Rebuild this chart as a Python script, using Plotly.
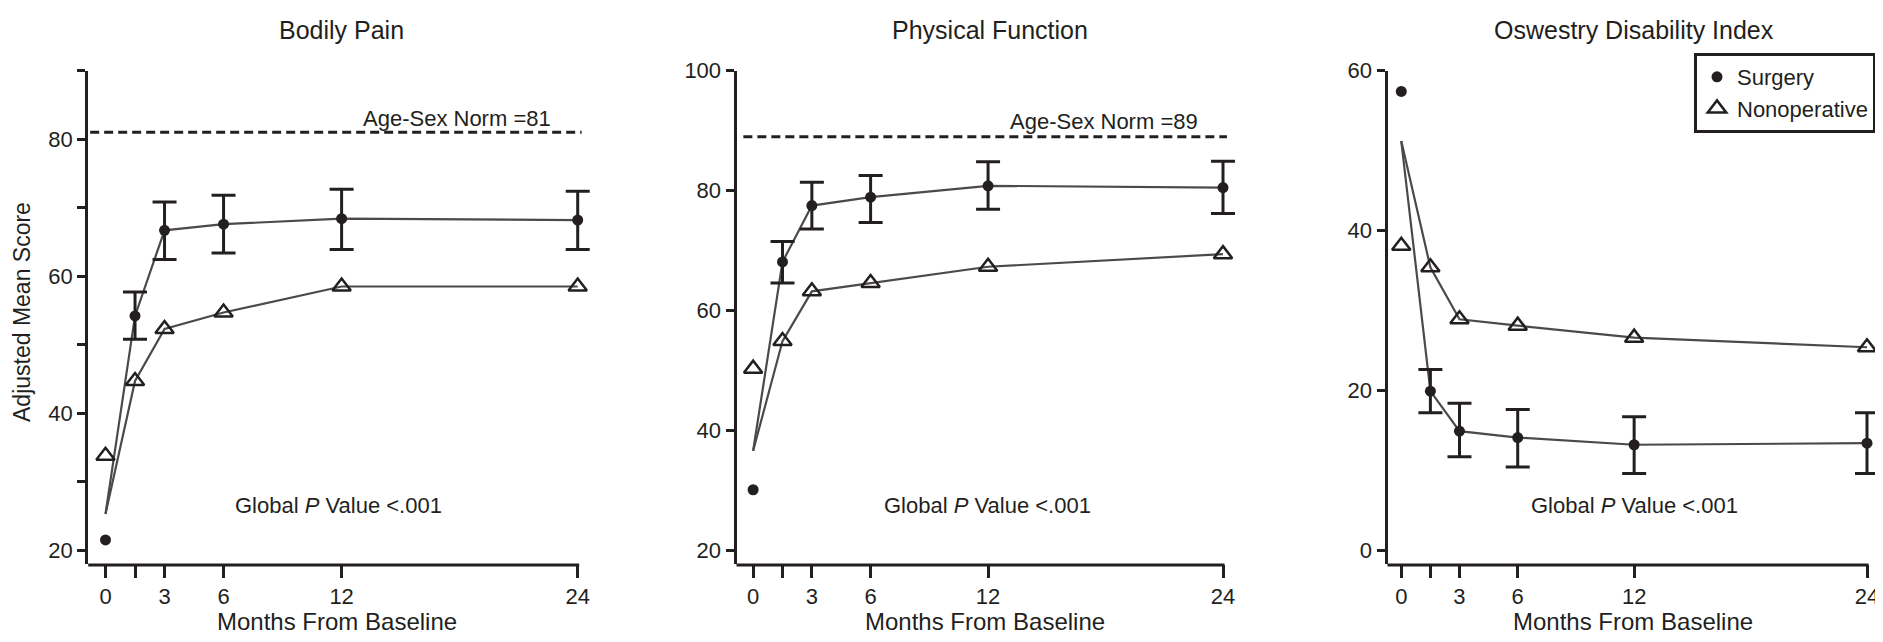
import plotly.graph_objects as go

# ---------------- data ----------------
MONTHS_FOLLOWUP = [1.5, 3, 6, 12, 24]
MONTH_BASELINE = [0]
X_TICK_VALS = [0, 1.5, 3, 6, 12, 24]
X_TICK_TEXT = ["0", "", "3", "6", "12", "24"]
X_AXIS_END = 24

PANEL_TITLES = ["Bodily Pain", "Physical Function", "Oswestry Disability Index"]
NORM_TEXT = ["Age-Sex Norm =81", "Age-Sex Norm =89"]
NORM_VALUES = [81, 89]
P_TEXT = "Global <i>P</i> Value <.001"
X_TITLE = "Months From Baseline"
Y_TITLE = "Adjusted Mean Score"
LEGEND_NAMES = ["Surgery", "Nonoperative"]

# Bodily Pain
BP_LINE_START = 25.3
BP_SURG_BASELINE = [21.5]
BP_NONOP_BASELINE = [33.8]
BP_SURG = [54.2, 66.7, 67.6, 68.4, 68.2]
BP_SURG_ERR_UP = [3.5, 4.15, 4.2, 4.3, 4.2]
BP_SURG_ERR_DN = [3.4, 4.25, 4.2, 4.5, 4.3]
BP_NONOP = [44.7, 52.3, 54.7, 58.5, 58.5]
BP_Y_TICKS = [20, 30, 40, 50, 60, 70, 80, 90]
BP_Y_TEXT = ["20", "", "40", "", "60", "", "80", ""]

# Physical Function
PF_LINE_START = 36.6
PF_SURG_BASELINE = [30.1]
PF_NONOP_BASELINE = [50.3]
PF_SURG = [68.1, 77.5, 78.9, 80.8, 80.5]
PF_SURG_ERR_UP = [3.4, 3.9, 3.6, 4.0, 4.4]
PF_SURG_ERR_DN = [3.5, 3.9, 4.2, 3.9, 4.3]
PF_NONOP = [54.9, 63.2, 64.6, 67.3, 69.4]
PF_Y_TICKS = [20, 40, 60, 80, 100]
PF_Y_TEXT = ["20", "40", "60", "80", "100"]

# Oswestry Disability Index
ODI_LINE_START = 51.2
ODI_SURG_BASELINE = [57.4]
ODI_NONOP_BASELINE = [38.1]
ODI_SURG = [19.9, 14.9, 14.1, 13.2, 13.4]
ODI_SURG_ERR_UP = [2.7, 3.5, 3.5, 3.5, 3.8]
ODI_SURG_ERR_DN = [2.7, 3.2, 3.7, 3.6, 3.8]
ODI_NONOP = [35.4, 28.9, 28.1, 26.6, 25.4]
ODI_Y_TICKS = [0, 20, 40, 60]
ODI_Y_TEXT = ["0", "20", "40", "60"]

# ---------------- layout helpers ----------------
OFF = 8  # default page body margin
FW, FH = 1875, 634
C = "#231f20"
LINE_C = "#4a4a4a"
FONT = "Liberation Sans, Arial, sans-serif"


def px_x(p):
    return (p - OFF) / FW


def px_y(p):
    return 1 - (p - OFF) / FH


PLOT_TOP, PLOT_BOTTOM = 70.7, 563.5
DOM_H = PLOT_BOTTOM - PLOT_TOP
# (left px, px at 24 months, range start, right extension px)
panels = [
    dict(sfx="", left=88.2, at24=577.7, x0=-0.88, ext=15.7, yr=[18.06, 90],
         start=BP_LINE_START, sb=BP_SURG_BASELINE, nb=BP_NONOP_BASELINE,
         s=BP_SURG, su=BP_SURG_ERR_UP, sd=BP_SURG_ERR_DN, n=BP_NONOP,
         yt=BP_Y_TICKS, ytt=BP_Y_TEXT),
    dict(sfx="2", left=736.5, at24=1223, x0=-0.85, ext=15.7, yr=[17.8, 100],
         start=PF_LINE_START, sb=PF_SURG_BASELINE, nb=PF_NONOP_BASELINE,
         s=PF_SURG, su=PF_SURG_ERR_UP, sd=PF_SURG_ERR_DN, n=PF_NONOP,
         yt=PF_Y_TICKS, ytt=PF_Y_TEXT),
    dict(sfx="3", left=1387.5, at24=1867, x0=-0.71, ext=15.0, yr=[-1.66, 60],
         start=ODI_LINE_START, sb=ODI_SURG_BASELINE, nb=ODI_NONOP_BASELINE,
         s=ODI_SURG, su=ODI_SURG_ERR_UP, sd=ODI_SURG_ERR_DN, n=ODI_NONOP,
         yt=ODI_Y_TICKS, ytt=ODI_Y_TEXT),
]

fig = go.Figure()
layout = dict(
    width=FW, height=FH, autosize=False,
    margin=dict(l=0, r=0, t=0, b=0, autoexpand=False),
    paper_bgcolor="white", plot_bgcolor="white",
    font=dict(family=FONT, color=C, size=22),
    showlegend=True,
    legend=dict(x=px_x(1876), xanchor="right", y=px_y(53), yanchor="top",
                bordercolor=C, borderwidth=3, bgcolor="white",
                font=dict(size=22, color=C), traceorder="normal",
                tracegroupgap=6),
    shapes=[], annotations=[],
)

for i, p in enumerate(panels):
    xa = "x" + p["sfx"]
    ya = "y" + p["sfx"]
    ppm = (p["at24"] - p["left"]) / (X_AXIS_END - p["x0"])
    right_px = min(p["at24"] + p["ext"], OFF + FW)
    x_end = X_AXIS_END + (right_px - p["at24"]) / ppm
    line_x = MONTH_BASELINE + MONTHS_FOLLOWUP
    # connecting lines
    fig.add_trace(go.Scatter(x=line_x, y=[p["start"]] + p["n"], mode="lines",
                             line=dict(color=LINE_C, width=2.2), xaxis=xa, yaxis=ya,
                             showlegend=False, hoverinfo="skip", cliponaxis=False))
    fig.add_trace(go.Scatter(x=line_x, y=[p["start"]] + p["s"], mode="lines",
                             line=dict(color=LINE_C, width=2.2), xaxis=xa, yaxis=ya,
                             showlegend=False, hoverinfo="skip", cliponaxis=False))
    # baseline markers (legend from first panel)
    fig.add_trace(go.Scatter(x=MONTH_BASELINE, y=p["sb"], mode="markers", name=LEGEND_NAMES[0],
                             marker=dict(symbol="circle", size=11, color=C),
                             xaxis=xa, yaxis=ya, showlegend=(i == 0), legendgroup="s",
                             cliponaxis=False))
    fig.add_trace(go.Scatter(x=MONTH_BASELINE, y=p["nb"], mode="markers", name=LEGEND_NAMES[1],
                             marker=dict(symbol="triangle-up-open", size=16, color=C,
                                         line=dict(width=2.5, color=C)),
                             xaxis=xa, yaxis=ya, showlegend=(i == 0), legendgroup="n",
                             cliponaxis=False))
    # follow-up markers
    fig.add_trace(go.Scatter(x=MONTHS_FOLLOWUP, y=p["n"], mode="markers",
                             marker=dict(symbol="triangle-up-open", size=16, color=C,
                                         line=dict(width=2.5, color=C)),
                             xaxis=xa, yaxis=ya, showlegend=False, cliponaxis=False))
    fig.add_trace(go.Scatter(x=MONTHS_FOLLOWUP, y=p["s"], mode="markers",
                             marker=dict(symbol="circle", size=11, color=C),
                             error_y=dict(type="data", symmetric=False, array=p["su"],
                                          arrayminus=p["sd"], color=C, thickness=3, width=12),
                             xaxis=xa, yaxis=ya, showlegend=False, cliponaxis=False))

    layout["xaxis" + p["sfx"]] = dict(
        domain=[px_x(p["left"]), min(1.0, px_x(right_px))], range=[p["x0"], x_end], anchor=ya,
        tickvals=X_TICK_VALS, ticktext=X_TICK_TEXT, ticks="outside", ticklen=13,
        tickwidth=3, tickcolor=C, showline=False,
        showgrid=False, zeroline=False, automargin=False, ticklabeloverflow="allow",
        tickfont=dict(size=22, color=C, family=FONT))
    layout["yaxis" + p["sfx"]] = dict(
        domain=[px_y(PLOT_BOTTOM), px_y(PLOT_TOP)], range=p["yr"], anchor=xa,
        tickvals=p["yt"], ticktext=p["ytt"], ticks="outside", ticklen=8,
        tickwidth=3, tickcolor=C, showline=True, linewidth=3, linecolor=C,
        showgrid=False, zeroline=False, automargin=False, ticklabeloverflow="allow",
        tickfont=dict(size=22, color=C, family=FONT))
    # x axis line ending at 24 months
    layout["shapes"].append(dict(type="line", xref=xa, yref=ya + " domain",
                                 x0=p["x0"] - 3.0 / ppm, x1=X_AXIS_END + 1.5 / ppm,
                                 y0=-1.5 / DOM_H, y1=-1.5 / DOM_H,
                                 line=dict(color=C, width=3)))

# norm lines
for i, norm in enumerate(NORM_VALUES):
    p = panels[i]
    layout["shapes"].append(dict(type="line", xref="x" + p["sfx"], yref="y" + p["sfx"],
                                 x0=p["x0"] + (0.1 if i == 0 else 0.35), x1=24.2,
                                 y0=norm, y1=norm,
                                 line=dict(color=C, width=3, dash="9px,5px")))

# text
title_centers = [341, 990, 1634]
for i, t in enumerate(PANEL_TITLES):
    layout["annotations"].append(dict(text=t, x=px_x(title_centers[i]), y=px_y(30),
                                      xref="paper", yref="paper", showarrow=False,
                                      xanchor="center", yanchor="middle",
                                      font=dict(size=25, color=C, family=FONT)))
layout["annotations"].append(dict(text=NORM_TEXT[0], x=px_x(553), y=px_y(118),
                                  xref="paper", yref="paper", showarrow=False,
                                  xanchor="right", yanchor="middle", font=dict(size=22)))
layout["annotations"].append(dict(text=NORM_TEXT[1], x=px_x(1008), y=px_y(121),
                                  xref="paper", yref="paper", showarrow=False,
                                  xanchor="left", yanchor="middle", font=dict(size=22)))
for cx in [338, 987.5, 1634]:
    layout["annotations"].append(dict(text=P_TEXT, x=px_x(cx), y=px_y(505.7),
                                      xref="paper", yref="paper", showarrow=False,
                                      xanchor="center", yanchor="middle", font=dict(size=22)))
for cx in [337, 985, 1633]:
    layout["annotations"].append(dict(text=X_TITLE, x=px_x(cx), y=px_y(621.7),
                                      xref="paper", yref="paper", showarrow=False,
                                      xanchor="center", yanchor="middle", font=dict(size=24)))
layout["annotations"].append(dict(text=Y_TITLE, x=px_x(8), y=px_y(312),
                                  xref="paper", yref="paper", showarrow=False, textangle=-90,
                                  xanchor="left", yanchor="middle", borderpad=0,
                                  font=dict(size=23)))

fig.update_layout(**layout)
fig.write_html("out.html")
